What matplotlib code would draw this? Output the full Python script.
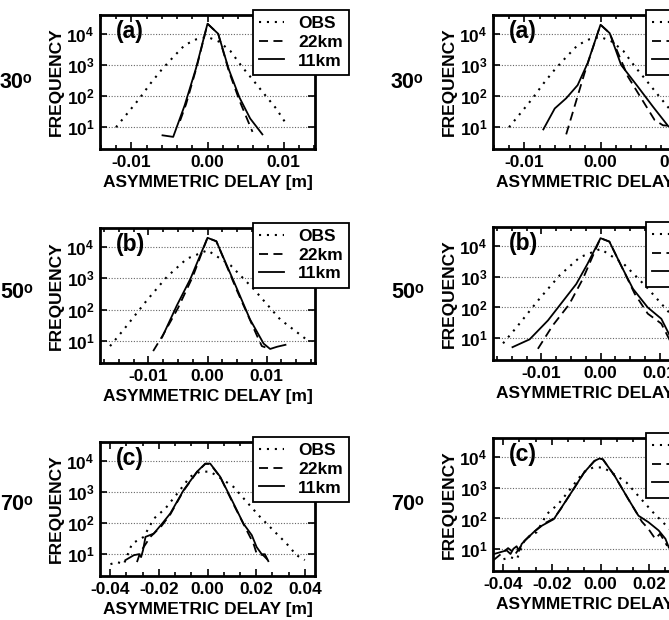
import matplotlib
matplotlib.use('Agg')
import matplotlib.pyplot as plt
from matplotlib.ticker import MultipleLocator, NullLocator

plt.rcParams['font.family'] = ['Liberation Sans', 'DejaVu Sans']
plt.rcParams['font.weight'] = 'bold'
plt.rcParams['axes.unicode_minus'] = False
plt.rcParams['mathtext.fontset'] = 'custom'
plt.rcParams['mathtext.rm'] = 'Liberation Sans:bold'
plt.rcParams['mathtext.bf'] = 'Liberation Sans:bold'
plt.rcParams['mathtext.it'] = 'Liberation Sans:bold'

# ---- data: asymmetric delay [m] vs frequency ----
angles = ['30\u1d52', '50\u1d52', '70\u1d52']
panel_tags = ['(a)', '(b)', '(c)']
ytick_vals = [10, 100, 1000, 10000]
ytick_text = [r'$\mathbf{10^{1}}$', r'$\mathbf{10^{2}}$', r'$\mathbf{10^{3}}$', r'$\mathbf{10^{4}}$']

# row 30 deg
obs30_x = [-0.0120, -0.0105, -0.0090, -0.0075, -0.0060, -0.0045, -0.0030, -0.0015, 0.0, 0.0015, 0.0030, 0.0045, 0.0060, 0.0075, 0.0090, 0.0105]
obs30_y = [10, 28, 79, 250, 710, 1780, 4300, 6600, 7900, 5600, 2800, 890, 320, 112, 40, 11]
l30_11_x = [-0.0059, -0.0045, -0.0030, -0.0015, 0.0, 0.0014, 0.0028, 0.0042, 0.0056, 0.0072]
l30_11_y = [5.5, 4.9, 50, 790, 21000, 10000, 710, 89, 19, 5.9]
l30_22_x = [-0.0036, -0.0028, -0.0014, 0.0, 0.0014, 0.0028, 0.0042, 0.0059]
l30_22_y = [16, 56, 890, 21000, 10000, 630, 71, 7.1]
r30_11_x = [-0.0075, -0.0060, -0.0045, -0.0030, -0.0017, 0.0, 0.0012, 0.0027, 0.0049, 0.0069, 0.0089, 0.0100]
r30_11_y = [8.5, 40, 85, 224, 1120, 19500, 10500, 1000, 200, 45, 10.7, 9]
r30_22_x = [-0.0045, -0.0021, 0.0, 0.0012, 0.0036, 0.0071, 0.0082, 0.0095]
r30_22_y = [5.9, 540, 19500, 10500, 420, 17, 11.5, 11]

# row 50 deg
obs50_x = [-0.0165, -0.0142, -0.0103, -0.0069, -0.0035, 0.0, 0.0039, 0.0078, 0.0123, 0.0171]
obs50_y = [6.9, 23, 195, 1100, 4200, 7800, 2600, 457, 49, 10]
l50_11_x = [-0.0077, -0.0052, -0.0029, 0.0, 0.0015, 0.0050, 0.0072, 0.0095, 0.0106, 0.0118, 0.0132]
l50_11_y = [13, 135, 955, 19500, 15100, 457, 49, 8.3, 5.6, 6.6, 7.6]
l50_22_x = [-0.0092, -0.0075, -0.0050, -0.0025, 0.0, 0.0015, 0.0050, 0.0084, 0.0092, 0.0098]
l50_22_y = [4.8, 16, 112, 1120, 19500, 15100, 400, 14.5, 6.9, 6.3]
r50_11_x = [-0.0149, -0.0120, -0.0089, -0.0067, -0.0041, -0.0022, 0.0, 0.0015, 0.0035, 0.0055, 0.0080, 0.0103, 0.0117, 0.0135]
r50_11_y = [5.2, 9.3, 38, 132, 575, 2570, 17400, 13500, 2240, 400, 100, 43, 12.6, 6.3]
r50_22_x = [-0.0106, -0.0081, -0.0053, -0.0030, 0.0, 0.0015, 0.0035, 0.0058, 0.0080, 0.0103, 0.0117, 0.0130]
r50_22_y = [4.6, 26, 126, 830, 17400, 13500, 2240, 275, 63, 30, 8.9, 5]

# row 70 deg
obs70_x = [-0.0399, -0.0371, -0.0344, -0.0310, -0.0262, -0.0221, -0.0173, -0.0119, -0.0071, -0.0030, 0.0011, 0.0066, 0.0107, 0.0161, 0.0216, 0.0270, 0.0325, 0.0366, 0.0400]
obs70_y = [4.8, 5.6, 4.8, 22, 36, 138, 295, 1000, 3100, 4470, 4470, 2400, 1450, 480, 158, 59, 22, 9.3, 6.5]
l70_11_x = [-0.0337, -0.0303, -0.0283, -0.0273, -0.0265, -0.0255, -0.0221, -0.0187, -0.0153, -0.0098, -0.0043, -0.0009, 0.0011, 0.0052, 0.0107, 0.0148, 0.0182, 0.0202, 0.0223, 0.0236, 0.0250]
l70_11_y = [6.5, 9.3, 10, 8.1, 13.5, 36, 46, 95, 204, 1150, 4470, 8130, 8130, 3090, 427, 95, 41, 17, 10, 10, 6]
l70_22_x = [-0.0290, -0.0276, -0.0235, -0.0190, -0.0153, -0.0098, -0.0043, -0.0009, 0.0011, 0.0052, 0.0107, 0.0161, 0.0189, 0.0202, 0.0229, 0.0250]
l70_22_y = [5.6, 11.7, 36, 79, 190, 1100, 4370, 7940, 7940, 3020, 398, 59, 22, 10.5, 9.3, 6.3]
r70_11_x = [-0.0435, -0.0386, -0.0370, -0.0358, -0.0345, -0.0335, -0.0324, -0.0303, -0.0275, -0.0240, -0.0192, -0.0164, -0.0115, -0.0067, -0.0025, -0.0004, 0.0010, 0.0058, 0.0114, 0.0156, 0.0197, 0.0239, 0.0267, 0.0281]
r70_11_y = [7.2, 9.3, 7.1, 10.5, 12.6, 8.9, 15, 22, 36, 59, 95, 204, 794, 3090, 7240, 8710, 8130, 2400, 427, 123, 76, 41, 22, 11.5]
r70_22_x = [-0.0440, -0.0400, -0.0380, -0.0350, -0.0310, -0.0275, -0.0240, -0.0192, -0.0164, -0.0115, -0.0067, -0.0025, -0.0004, 0.0010, 0.0058, 0.0114, 0.0170, 0.0197, 0.0225, 0.0245, 0.0274]
r70_22_y = [4.5, 8.1, 11, 7.1, 20, 36, 63, 100, 200, 794, 3090, 7240, 8710, 8130, 2400, 427, 79, 46, 22, 32, 13]

obs_rows = [(obs30_x, obs30_y), (obs50_x, obs50_y), (obs70_x, obs70_y)]
left_rows = [((l30_22_x, l30_22_y), (l30_11_x, l30_11_y)),
             ((l50_22_x, l50_22_y), (l50_11_x, l50_11_y)),
             ((l70_22_x, l70_22_y), (l70_11_x, l70_11_y))]
right_rows = [((r30_22_x, r30_22_y), (r30_11_x, r30_11_y)),
              ((r50_22_x, r50_22_y), (r50_11_x, r50_11_y)),
              ((r70_22_x, r70_22_y), (r70_11_x, r70_11_y))]

# axis setup per row: xlim half-width, major step, minor step
row_xlim = [0.0141, 0.0182, 0.0442]
row_major = [0.01, 0.01, 0.02]
row_minor = [0.002, 0.0025, 0.02 / 3]

W, H = 669, 620
fig = plt.figure(figsize=(W / 100, H / 100), dpi=100)

# pixel boxes (left, top, right, bottom)
left_boxes = [(100, 15, 315, 149), (100, 228, 315, 363), (100, 442, 315, 576)]
right_boxes = [(493, 15, 708, 149), (493, 227, 708, 360), (493, 438, 708, 571)]
label_y = [82, 292, 505]
FS = 12.5


def px_axes(box):
    l, t, r, b = box
    return fig.add_axes([l / W, 1 - b / H, (r - l) / W, (b - t) / H])


def draw_panel(ax, i, obs, km22, km11):
    ax.set_yscale('log')
    ax.plot(obs[0], obs[1], color='black', lw=1.5, linestyle=(0, (1, 2.8)), label='OBS')
    ax.plot(km22[0], km22[1], color='black', lw=1.3, linestyle=(0, (5, 3)), label='22km')
    ax.plot(km11[0], km11[1], color='black', lw=1.3, label='11km')
    ax.set_ylim(2, 4e4)
    ax.set_xlim(-row_xlim[i], row_xlim[i])
    ax.set_yticks(ytick_vals)
    ax.set_yticklabels(ytick_text)
    ax.yaxis.set_minor_locator(NullLocator())
    ax.xaxis.set_major_locator(MultipleLocator(row_major[i]))
    ax.xaxis.set_minor_locator(MultipleLocator(row_minor[i]))
    ax.xaxis.set_major_formatter(plt.FormatStrFormatter('%.2f'))
    ax.yaxis.grid(True, which='major', linestyle=(0, (1, 1.5)), color='0.4', lw=0.8)
    ax.tick_params(which='both', direction='in', top=True, right=True, width=1.2, labelsize=FS)
    ax.tick_params(which='major', length=5, pad=4)
    ax.tick_params(which='minor', length=3)
    for s in ax.spines.values():
        s.set_linewidth(2)
    ax.set_xlabel('ASYMMETRIC DELAY [m]', fontsize=FS, fontweight='bold', labelpad=4)
    ax.set_ylabel('FREQUENCY', fontsize=FS, fontweight='bold', labelpad=2)
    ax.text(0.075, 0.96, panel_tags[i], transform=ax.transAxes, ha='left', va='top',
            fontsize=16.5, fontweight='bold')
    leg = ax.legend(loc='upper left', bbox_to_anchor=(0.712, 1.037), borderaxespad=0,
                    fancybox=False, edgecolor='black', framealpha=1, fontsize=FS,
                    handlelength=1.45, handletextpad=0.8, labelspacing=0.2, borderpad=0.35)
    leg.get_frame().set_linewidth(1.3)


for i in range(3):
    axl = px_axes(left_boxes[i])
    draw_panel(axl, i, obs_rows[i], left_rows[i][0], left_rows[i][1])
    axr = px_axes(right_boxes[i])
    draw_panel(axr, i, obs_rows[i], right_rows[i][0], right_rows[i][1])
    for xpx in [0, 391]:
        fig.text(xpx / W, 1 - label_y[i] / H, angles[i],
                 ha='left', va='center', fontsize=15.5)

fig.savefig('out.png', dpi=100)
